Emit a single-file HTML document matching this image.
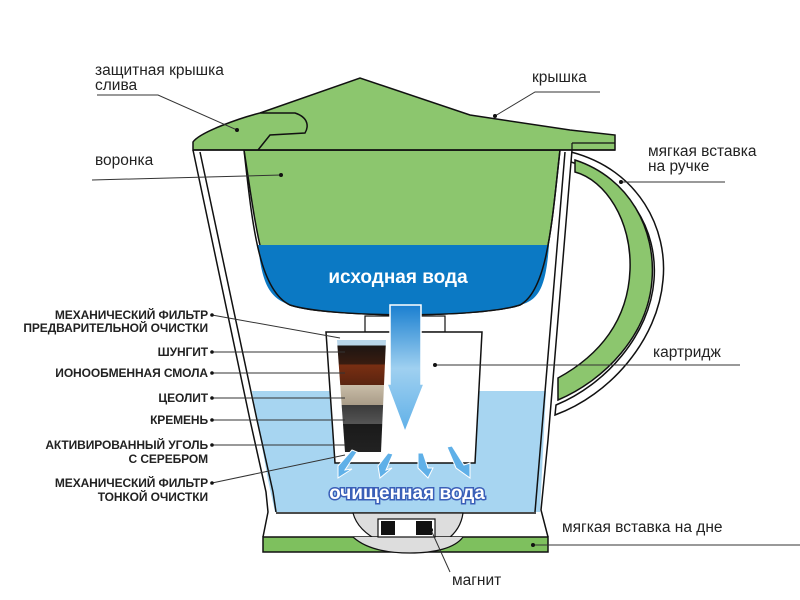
<!DOCTYPE html>
<html><head><meta charset="utf-8"><style>
html,body{margin:0;padding:0;background:#fff;width:800px;height:600px;overflow:hidden}
svg{display:block}
.l{font-family:"Liberation Sans","DejaVu Sans",sans-serif;font-size:15.5px;fill:#222}
.s{font-family:"Liberation Sans","DejaVu Sans",sans-serif;font-size:12px;fill:#222;text-anchor:end;font-weight:bold;letter-spacing:-0.1px}
</style></head><body>
<svg width="800" height="600" viewBox="0 0 800 600" xmlns="http://www.w3.org/2000/svg">
<defs>
<linearGradient id="ar" x1="0" y1="0" x2="0" y2="1"><stop offset="0" stop-color="#1a7fd0"/><stop offset="0.5" stop-color="#9fd0f0"/><stop offset="1" stop-color="#5fb0e8"/></linearGradient>
<linearGradient id="layers" x1="0" y1="0" x2="0" y2="1">
<stop offset="0" stop-color="#b9d6ea"/><stop offset="0.05" stop-color="#b9d6ea"/>
<stop offset="0.05" stop-color="#1d1512"/><stop offset="0.22" stop-color="#3a1c10"/>
<stop offset="0.22" stop-color="#7a2f12"/><stop offset="0.4" stop-color="#5a2410"/>
<stop offset="0.4" stop-color="#c9bda8"/><stop offset="0.58" stop-color="#a99c88"/>
<stop offset="0.58" stop-color="#3a3a3a"/><stop offset="0.75" stop-color="#555"/>
<stop offset="0.75" stop-color="#1a1a1a"/><stop offset="1" stop-color="#222"/>
</linearGradient>
</defs>
<!-- handle -->
<path d="M571,152 C640,170 668,230 663,280 C658,340 610,395 555,415 L556,405 C605,385 650,335 654,280 C658,230 630,180 571,162 Z" fill="#fff" stroke="#111" stroke-width="1.5"/>
<path d="M575,160 C630,178 656,230 652,280 C648,335 605,380 558,400 L558,378 C600,355 628,320 630,270 C632,220 605,180 575,172 Z" fill="#8cc66e" stroke="#111" stroke-width="1.5"/>
<!-- body outer -->
<path d="M193,150 L572,150 L548,440 L540,505 L548,537 L263,537 L272,505 L264,490 Z" fill="#fff"/>
<!-- light water -->
<path d="M252,391 L546,391 L540,512 L275,512 L268,480 Z" fill="#a7d5f1"/>
<!-- walls -->
<path d="M193,150 L250,420 L266,492 L268,512 L263,537" fill="none" stroke="#111" stroke-width="1.5"/>
<path d="M200,152 L257,420 L273,492 L276,512" fill="none" stroke="#111" stroke-width="1.5"/>
<path d="M572,150 L548,440 L541,510 L548,537" fill="none" stroke="#111" stroke-width="1.5"/>
<path d="M565,152 L541,440 L535,512" fill="none" stroke="#111" stroke-width="1.5"/>
<line x1="276" y1="513" x2="536" y2="513" stroke="#111" stroke-width="1.5"/>
<!-- base -->
<path d="M353,513 C360,540 400,550 410,550 C440,550 460,535 463,513 Z" fill="#ddd" stroke="#111" stroke-width="1.2"/>
<rect x="263" y="537" width="285" height="15" fill="#7ec05e" stroke="#111" stroke-width="1.5"/>
<path d="M353,537 C365,548 385,553 410,553 C435,553 455,548 463,537" fill="#ddd" stroke="#111" stroke-width="1.2"/>
<rect x="378" y="519" width="57" height="18" fill="#fff" stroke="#111" stroke-width="1.2"/>
<rect x="381" y="521" width="14" height="14" fill="#111"/>
<rect x="416" y="521" width="16" height="14" fill="#111"/>
<!-- funnel -->
<path d="M244,150 L560,150 C552,220 548,290 520,305 C480,318 330,318 290,305 C262,290 255,220 244,150 Z" fill="#8cc66e" stroke="#111" stroke-width="1.5"/>
<path d="M258,245 L549,245 C546,285 540,300 520,305 C480,318 330,318 290,305 C270,298 262,285 258,245 Z" fill="#0b79c4"/>
<path d="M244,150 C252,220 258,290 290,305 C330,318 480,318 520,305 C548,290 552,220 560,150" fill="none" stroke="#111" stroke-width="1.5"/>
<text x="398" y="283" font-family="Liberation Sans,sans-serif" font-weight="bold" font-size="19" fill="#fff" text-anchor="middle">исходная вода</text>
<!-- neck -->
<rect x="365" y="316" width="80" height="16" fill="#fff" stroke="#111" stroke-width="1.2"/>
<!-- cartridge -->
<path d="M326,332 L482,332 L475,463 L335,463 Z" fill="#fff" stroke="#111" stroke-width="1.5"/>
<path d="M337,340 L386,340 L381,452 L345,452 Z" fill="url(#layers)"/>
<!-- arrow -->
<path d="M390,305 L421,305 L421,384 L424,384 L405,432 L387,384 L390,384 Z" fill="url(#ar)" stroke="#fff" stroke-width="1.5"/>
<g fill="#5fb0e8" stroke="#fff" stroke-width="1">
<path d="M352,450 L357,452 L345,470 L352,469 L338,478 L338,466 Z"/>
<path d="M388,453 L393,454 L386,470 L392,468 L380,478 L378,466 Z"/>
<path d="M418,453 L423,453 L428,468 L433,468 L428,478 L418,468 Z"/>
<path d="M447,447 L452,446 L464,465 L470,463 L470,478 L456,468 Z"/>
</g>
<text x="407" y="499" font-family="Liberation Sans,sans-serif" font-weight="bold" font-size="19" fill="#fff" stroke="#3a5fb8" stroke-width="3" paint-order="stroke" text-anchor="middle">очищенная вода</text>
<!-- lid -->
<path d="M193,150 L193,142 C200,132 240,118 260,113 L360,78 L470,115 L570,130 L615,135 L615,150 Z" fill="#8cc66e" stroke="#111" stroke-width="1.5"/>
<path d="M260,113 L295,113 C310,118 308,128 305,133 L270,135 L258,150" fill="#8cc66e" stroke="#111" stroke-width="1.5"/>
<line x1="572" y1="150" x2="572" y2="143" stroke="#111" stroke-width="1.2"/>
<line x1="572" y1="143" x2="615" y2="143" stroke="#111" stroke-width="1.2"/>
<line x1="193" y1="150" x2="615" y2="150" stroke="#111" stroke-width="1.5"/>
<!-- right labels -->
<g stroke="#333" stroke-width="1" fill="none">
<polyline points="495,116 535,92 600,92"/>
<polyline points="621,182 725,182"/>
<polyline points="435,365 740,365"/>
<polyline points="533,545 800,545"/>
<polyline points="431,530 450,572"/>
<polyline points="97,95 158,95 237,130"/>
<polyline points="92,180 281,175"/>
</g>
<g fill="#111"><circle cx="495" cy="116" r="2"/><circle cx="621" cy="182" r="2"/><circle cx="435" cy="365" r="2"/><circle cx="533" cy="545" r="2"/><circle cx="431" cy="530" r="2"/><circle cx="237" cy="130" r="2"/><circle cx="281" cy="175" r="2"/></g>
<text class="l" x="532" y="82">крышка</text>
<text class="l" x="648" y="156">мягкая вставка</text>
<text class="l" x="648" y="171">на ручке</text>
<text class="l" x="653" y="357">картридж</text>
<text class="l" x="562" y="532">мягкая вставка на дне</text>
<text class="l" x="452" y="585">магнит</text>
<text class="l" x="95" y="75">защитная крышка</text>
<text class="l" x="95" y="90">слива</text>
<text class="l" x="95" y="165">воронка</text>
<!-- left labels -->
<g stroke="#333" stroke-width="1" fill="none">
<polyline points="212,315 340,338"/>
<line x1="212" y1="352" x2="345" y2="352"/>
<line x1="212" y1="373" x2="345" y2="373"/>
<line x1="212" y1="398" x2="345" y2="398"/>
<line x1="212" y1="420" x2="345" y2="420"/>
<line x1="212" y1="445" x2="345" y2="445"/>
<polyline points="212,483 345,455"/>
</g>
<g fill="#111"><circle cx="212" cy="315" r="1.8"/><circle cx="212" cy="352" r="1.8"/><circle cx="212" cy="373" r="1.8"/><circle cx="212" cy="398" r="1.8"/><circle cx="212" cy="420" r="1.8"/><circle cx="212" cy="445" r="1.8"/><circle cx="212" cy="483" r="1.8"/></g>
<text class="s" x="208" y="319">МЕХАНИЧЕСКИЙ ФИЛЬТР</text>
<text class="s" x="208" y="332">ПРЕДВАРИТЕЛЬНОЙ ОЧИСТКИ</text>
<text class="s" x="208" y="356">ШУНГИТ</text>
<text class="s" x="208" y="377">ИОНООБМЕННАЯ СМОЛА</text>
<text class="s" x="208" y="402">ЦЕОЛИТ</text>
<text class="s" x="208" y="424">КРЕМЕНЬ</text>
<text class="s" x="208" y="449">АКТИВИРОВАННЫЙ УГОЛЬ</text>
<text class="s" x="208" y="463">С СЕРЕБРОМ</text>
<text class="s" x="208" y="487">МЕХАНИЧЕСКИЙ ФИЛЬТР</text>
<text class="s" x="208" y="501">ТОНКОЙ ОЧИСТКИ</text>
</svg>
</body></html>
